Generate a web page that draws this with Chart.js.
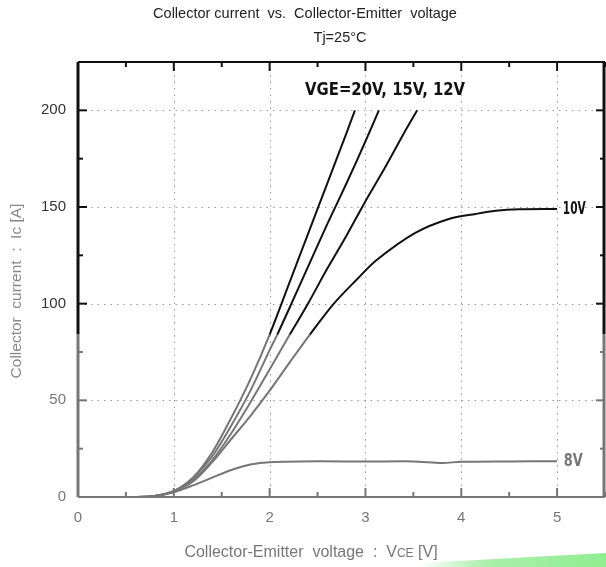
<!DOCTYPE html>
<html>
<head>
<meta charset="utf-8">
<script src="https://cdn.jsdelivr.net/npm/chart.js@4.4.0/dist/chart.umd.min.js"></script>
<style>
  html, body { margin: 0; padding: 0; background: #fff; }
  #wrap { width: 606px; height: 567px; }
</style>
</head>
<body>
<div id="wrap"><canvas id="ic"></canvas></div>
<script>
// Ic-VCE curves
const vce20 = [0, 0.6, 0.8, 1.0, 1.2, 1.4, 1.6, 1.8, 2.0, 2.2, 2.4, 2.6, 2.8, 2.89];
const ic20  = [0, 0, 0.5, 3, 10, 23, 41, 61, 84, 110, 136, 162, 188, 200];

const vce15 = [0, 0.6, 0.8, 1.0, 1.2, 1.4, 1.6, 1.8, 2.0, 2.08, 2.2, 2.4, 2.6, 2.8, 3.0, 3.14];
const ic15  = [0, 0, 0.5, 3, 10, 21, 37, 55, 76, 84, 97, 119, 141, 162, 184, 200];

const vce12 = [0, 0.6, 0.8, 1.0, 1.2, 1.4, 1.6, 1.8, 2.0, 2.21, 2.4, 2.6, 2.8, 3.0, 3.2, 3.4, 3.54];
const ic12  = [0, 0, 0.5, 3, 9, 19, 33, 49, 66, 84, 100, 118, 135, 153, 170, 188, 200];

const vce10 = [0, 0.6, 0.8, 1.0, 1.2, 1.4, 1.6, 1.8, 2.0, 2.2, 2.42, 2.67, 2.9, 3.12, 3.52, 3.87, 4.15, 4.36, 4.6, 5.0];
const ic10  = [0, 0, 0.5, 3, 8, 18, 30, 42, 55, 69, 84, 100, 112, 122.7, 136.6, 143.8, 146.4, 148, 148.8, 149];

const vce8 = [0, 0.6, 0.8, 1.0, 1.2, 1.4, 1.6, 1.8, 2.0, 2.5, 3.0, 3.5, 3.8, 4.0, 4.5, 5.0];
const ic8  = [0, 0, 0.5, 2.5, 6, 10, 14, 16.8, 18, 18.5, 18.3, 18.4, 17.6, 18.2, 18.4, 18.5];

const xTicks = [0, 1, 2, 3, 4, 5];
const yTicks = [0, 50, 100, 150, 200];

// the scan is black above this current, grey below it
const SPLIT = 84;
const BLACK = '#111';
const GREY = '#767676';

function pts(xs, ys) {
    return xs.map((x, i) => ({ x: x, y: ys[i] }));
}

function curve(label, xs, ys) {
    return {
        label: label,
        data: pts(xs, ys),
        borderColor: BLACK,
        borderWidth: 2,
        pointRadius: 0,
        tension: 0.3,
        segment: {
            borderColor: ctx => (ctx.p0.parsed.y + ctx.p1.parsed.y) / 2 > SPLIT ? BLACK : GREY
        }
    };
}

// narrow bold lettering of the scan: squeeze text into a given width
function squeezeText(ctx, text, px, py, width) {
    const w = ctx.measureText(text).width;
    ctx.save();
    ctx.translate(px, py);
    ctx.scale(width / w, 1);
    ctx.fillText(text, 0, 0);
    ctx.restore();
}

const framePlugin = {
    id: 'frame',
    beforeDatasetsDraw(chart) {
        const { ctx, chartArea: a, scales: { x, y } } = chart;
        ctx.save();
        ctx.strokeStyle = '#999';
        ctx.lineWidth = 1;
        ctx.setLineDash([1.5, 5]);
        xTicks.forEach(v => {
            if (v === 0) return;
            const px = Math.round(x.getPixelForValue(v)) + 0.5;
            ctx.beginPath(); ctx.moveTo(px, a.top); ctx.lineTo(px, a.bottom); ctx.stroke();
        });
        yTicks.forEach(v => {
            if (v === 0) return;
            const py = Math.round(y.getPixelForValue(v)) + 0.5;
            ctx.beginPath(); ctx.moveTo(a.left, py); ctx.lineTo(a.right, py); ctx.stroke();
        });
        ctx.restore();
    },
    afterDatasetsDraw(chart) {
        const { ctx, chartArea: a, scales: { x, y } } = chart;
        const sy = y.getPixelForValue(SPLIT);
        ctx.save();
        ctx.setLineDash([]);

        // inward ticks
        for (let v = 0; v <= 5.5; v += 0.5) {
            const px = x.getPixelForValue(v);
            const len = v % 1 === 0 ? 9 : 5;
            ctx.lineWidth = 2;
            ctx.strokeStyle = BLACK;
            ctx.beginPath(); ctx.moveTo(px, a.top); ctx.lineTo(px, a.top + len); ctx.stroke();
            ctx.strokeStyle = GREY;
            ctx.beginPath(); ctx.moveTo(px, a.bottom); ctx.lineTo(px, a.bottom - len); ctx.stroke();
        }
        for (let v = 0; v <= 225; v += 25) {
            const py = y.getPixelForValue(v);
            const len = v % 50 === 0 ? 9 : 5;
            ctx.lineWidth = 2;
            ctx.strokeStyle = v > SPLIT ? BLACK : GREY;
            ctx.beginPath(); ctx.moveTo(a.left, py); ctx.lineTo(a.left + len, py); ctx.stroke();
            ctx.beginPath(); ctx.moveTo(a.right, py); ctx.lineTo(a.right - len, py); ctx.stroke();
        }

        // frame: top black, bottom grey, sides split
        ctx.lineWidth = 2;
        ctx.strokeStyle = BLACK;
        ctx.beginPath(); ctx.moveTo(a.left, a.top); ctx.lineTo(a.right, a.top); ctx.stroke();
        ctx.lineWidth = 3;
        ctx.beginPath(); ctx.moveTo(a.left, a.top); ctx.lineTo(a.left, sy); ctx.stroke();
        ctx.beginPath(); ctx.moveTo(a.right - 1, a.top); ctx.lineTo(a.right - 1, sy); ctx.stroke();
        ctx.strokeStyle = GREY;
        ctx.beginPath(); ctx.moveTo(a.left, sy); ctx.lineTo(a.left, a.bottom); ctx.stroke();
        ctx.beginPath(); ctx.moveTo(a.right - 1, sy); ctx.lineTo(a.right - 1, a.bottom); ctx.stroke();
        ctx.lineWidth = 2;
        ctx.beginPath(); ctx.moveTo(a.left, a.bottom); ctx.lineTo(a.right, a.bottom); ctx.stroke();

        // curve labels
        ctx.font = 'bold 17px "DejaVu Sans Condensed", "DejaVu Sans"';
        ctx.textBaseline = 'middle';
        ctx.textAlign = 'left';
        ctx.fillStyle = BLACK;
        squeezeText(ctx, 'VGE=20V, 15V, 12V', x.getPixelForValue(2.37), y.getPixelForValue(210), 160);
        squeezeText(ctx, '10V', x.getPixelForValue(5.06), y.getPixelForValue(148.5), 23);
        ctx.fillStyle = GREY;
        squeezeText(ctx, '8V', x.getPixelForValue(5.07), y.getPixelForValue(18.5), 19);

        // titles
        ctx.font = '14.5px "Liberation Sans", Arial';
        ctx.fillStyle = '#222';
        ctx.textAlign = 'center';
        ctx.fillText('Collector current  vs.  Collector-Emitter  voltage', 305, 14);
        ctx.fillText('Tj=25°C', 340, 38);

        // x axis title with small-caps CE
        ctx.fillStyle = '#777';
        const t1 = 'Collector-Emitter  voltage  :  V', t2 = 'CE', t3 = ' [V]';
        ctx.font = '16px "Liberation Sans", Arial';
        const w1 = ctx.measureText(t1).width, w3 = ctx.measureText(t3).width;
        ctx.font = '12px "Liberation Sans", Arial';
        const w2 = ctx.measureText(t2).width;
        let sx = 311 - (w1 + w2 + w3) / 2;
        ctx.textAlign = 'left';
        ctx.textBaseline = 'alphabetic';
        ctx.font = '16px "Liberation Sans", Arial';
        ctx.fillText(t1, sx, 557);
        ctx.font = '12px "Liberation Sans", Arial';
        ctx.fillText(t2, sx + w1, 557);
        ctx.font = '16px "Liberation Sans", Arial';
        ctx.fillText(t3, sx + w1 + w2, 557);

        // y axis title
        ctx.save();
        ctx.translate(17, 291);
        ctx.rotate(-Math.PI / 2);
        ctx.textAlign = 'center';
        ctx.textBaseline = 'middle';
        ctx.font = '15.5px "Liberation Sans", Arial';
        ctx.fillStyle = '#888';
        ctx.fillText('Collector  current  :  Ic [A]', 0, 0);
        ctx.restore();

        // green strip in the corner of the scan
        const g = ctx.createLinearGradient(420, 0, 606, 0);
        g.addColorStop(0, 'rgba(150,235,150,0)');
        g.addColorStop(0.35, 'rgba(150,235,150,0.8)');
        g.addColorStop(1, 'rgb(144,238,144)');
        ctx.fillStyle = g;
        ctx.beginPath();
        ctx.moveTo(420, 563); ctx.lineTo(606, 553); ctx.lineTo(606, 567); ctx.lineTo(420, 567);
        ctx.closePath();
        ctx.fill();
        ctx.restore();
    }
};

new Chart(document.getElementById('ic'), {
    type: 'line',
    data: {
        datasets: [
            curve('VGE=20V', vce20, ic20),
            curve('VGE=15V', vce15, ic15),
            curve('VGE=12V', vce12, ic12),
            curve('VGE=10V', vce10, ic10),
            Object.assign(curve('VGE=8V', vce8, ic8), { borderColor: GREY, segment: {} })
        ]
    },
    plugins: [framePlugin],
    options: {
        responsive: true,
        maintainAspectRatio: false,
        animation: false,
        layout: { padding: { top: 62, right: 1, left: 0, bottom: 0 } },
        plugins: {
            legend: { display: false },
            tooltip: { enabled: false }
        },
        scales: {
            x: {
                type: 'linear',
                min: 0,
                max: 5.5,
                afterFit: s => { s.height = 70; },
                afterBuildTicks: s => { s.ticks = xTicks.map(v => ({ value: v })); },
                grid: { display: false, drawTicks: false },
                border: { display: false },
                ticks: {
                    padding: 12,
                    color: '#777',
                    font: { family: '"Liberation Sans", Arial', size: 15 }
                }
            },
            y: {
                min: 0,
                max: 225,
                afterFit: s => { s.width = 78; },
                afterBuildTicks: s => { s.ticks = yTicks.map(v => ({ value: v })); },
                grid: { display: false, drawTicks: false },
                border: { display: false },
                ticks: {
                    padding: 12,
                    color: c => c.tick && c.tick.value > SPLIT ? '#333' : '#777',
                    font: { family: '"Liberation Sans", Arial', size: 15 }
                }
            }
        }
    }
});
</script>
</body>
</html>
